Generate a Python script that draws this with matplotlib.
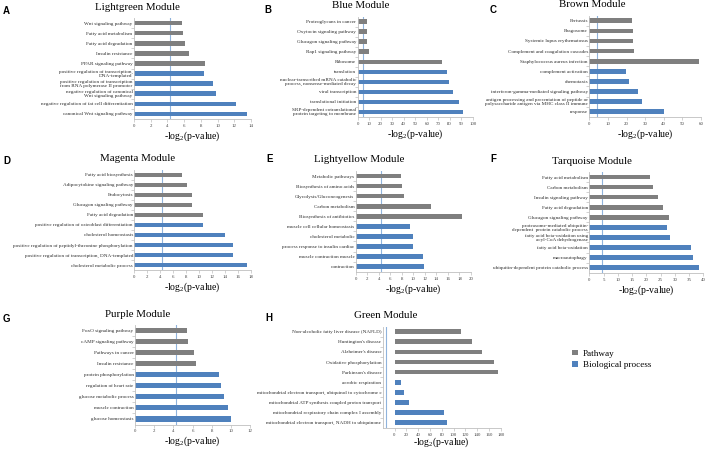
import matplotlib.pyplot as plt
from matplotlib.patches import Patch

plt.rcParams["font.family"] = ["Liberation Serif", "DejaVu Serif"]
plt.rcParams["mathtext.fontset"] = "custom"
plt.rcParams["mathtext.rm"] = "Liberation Serif"
plt.rcParams["mathtext.it"] = "Liberation Serif:italic"

GRAY = "#7f7f7f"
BLUE = "#4f81bd"
LINE = "#8fb3dc"
W, H = 708, 449

# ---- data (top to bottom) ----
a_path_terms = ["Wnt signaling pathway", "Fatty acid metabolism", "Fatty acid degradation",
                "Insulin resistance", "PPAR signaling pathway"]
a_path_vals = [5.7, 5.9, 6.1, 6.6, 8.5]
a_proc_terms = ["positive regulation of transcription,\nDNA-templated",
                "positive regulation of transcription\nfrom RNA polymerase II promoter",
                "negative regulation of canonical\nWnt signaling pathway",
                "negative regulation of fat cell differentiation",
                "canonical Wnt signaling pathway"]
a_proc_vals = [8.4, 9.5, 9.8, 12.2, 13.5]

b_path_terms = ["Proteoglycans in cancer", "Oxytocin signaling pathway", "Glucagon signaling pathway",
                "Rap1 signaling pathway", "Ribosome"]
b_path_vals = [7.8, 7.9, 8.4, 9.9, 73.3]
b_proc_terms = ["translation",
                "nuclear-transcribed mRNA catabolic\nprocess, nonsense-mediated decay",
                "viral transcription", "translational initiation",
                "SRP-dependent cotranslational\nprotein targeting to membrane"]
b_proc_vals = [77.7, 79.4, 82.6, 88.1, 91.6]

c_path_terms = ["Pertussis", "Phagosome", "Systemic lupus erythematosus",
                "Complement and coagulation cascades", "Staphylococcus aureus infection"]
c_path_vals = [22.8, 23.4, 23.5, 24.2, 58.8]
c_proc_terms = ["complement activation", "chemotaxis", "interferon-gamma-mediated signaling pathway",
                "antigen processing and presentation of peptide or\npolysaccharide antigen via MHC class II immune",
                "response"]
c_proc_vals = [19.9, 21.1, 26.2, 28.1, 40.3]

d_path_terms = ["Fatty acid biosynthesis", "Adipocytokine signaling pathway", "Endocytosis",
                "Glucagon signaling pathway", "Fatty acid degradation"]
d_path_vals = [7.4, 8.1, 8.9, 9.0, 10.6]
d_proc_terms = ["positive regulation of osteoblast differentiation", "cholesterol homeostasis",
                "positive regulation of peptidyl-threonine phosphorylation",
                "positive regulation of transcription, DNA-templated",
                "cholesterol metabolic process"]
d_proc_vals = [10.7, 14.1, 15.2, 15.2, 17.5]

e_path_terms = ["Metabolic pathways", "Biosynthesis of amino acids", "Glycolysis/Gluconeogenesis",
                "Carbon metabolism", "Biosynthesis of antibiotics"]
e_path_vals = [7.8, 8.0, 8.4, 13.0, 18.5]
e_proc_terms = ["muscle cell cellular homeostasis", "cholesterol metabolic",
                "process response to insulin cardiac", "muscle contraction muscle", "contraction"]
e_proc_vals = [9.5, 9.9, 10.0, 11.7, 11.9]

f_path_terms = ["Fatty acid metabolism", "Carbon metabolism", "Insulin signaling pathway",
                "Fatty acid degradation", "Glucagon signaling pathway"]
f_path_vals = [21.3, 22.3, 24.1, 26.0, 28.1]
f_proc_terms = ["proteasome-mediated ubiquitin-\ndependent  protein catabolic process",
                "fatty acid beta-oxidation using\nacyl-CoA dehydrogenase",
                "fatty acid beta-oxidation", "macroautophagy",
                "ubiquitin-dependent protein catabolic process"]
f_proc_vals = [27.4, 28.3, 35.7, 36.3, 38.6]

g_path_terms = ["FoxO signaling pathway", "cAMP signaling pathway", "Pathways in cancer",
                "Insulin resistance"]
g_path_vals = [5.4, 5.5, 6.2, 6.4]
g_proc_terms = ["protein phosphorylation", "regulation of heart rate", "glucose metabolic process",
                "muscle contraction", "glucose homeostasis"]
g_proc_vals = [8.8, 9.0, 9.3, 9.7, 10.0]

h_path_terms = ["Non-alcoholic fatty liver disease (NAFLD)", "Huntington's disease",
                "Alzheimer's disease", "Oxidative phosphorylation", "Parkinson's disease"]
h_path_vals = [112, 132, 148, 169, 175]
h_proc_terms = ["aerobic respiration",
                "mitochondrial electron transport, ubiquinol to cytochrome c",
                "mitochondrial ATP synthesis coupled proton transport",
                "mitochondrial respiratory chain complex I assembly",
                "mitochondrial electron transport, NADH to ubiquinone"]
h_proc_vals = [11.5, 16, 24.5, 84, 89]

thresholds = [4.32, 4.32, 4.32, 4.32, 4.32, 4.32, 4.32, -15]


def draw_panel(fig, box, letter, letter_xy, title, path_terms, path_vals, proc_terms, proc_vals,
               xlim, step, thresh, label_off=17.5):
    left, top, right, bottom = box
    ax = fig.add_axes([left / W, 1 - bottom / H, (right - left) / W, (bottom - top) / H])
    terms = path_terms + proc_terms
    vals = path_vals + proc_vals
    colors = [GRAY] * len(path_terms) + [BLUE] * len(proc_terms)
    ypos = list(range(len(terms)))
    ax.barh(ypos, vals, height=0.46, color=colors, zorder=2)
    ax.set_ylim(len(terms) - 0.5, -0.5)
    ax.set_yticks(ypos)
    ax.set_yticklabels(terms, fontsize=3.7, linespacing=0.95, color="#2b2b2b")
    ax.set_yticks([p + 0.5 for p in ypos[:-1]], minor=True)
    ax.set_xlim(*xlim)
    ax.set_xticks(range(0, xlim[1] + 1, step))
    ax.tick_params(axis="x", labelsize=3.5, length=2, width=0.5, color="#bfbfbf",
                   labelcolor="#444444", pad=1.5)
    ax.tick_params(axis="y", which="major", length=0, pad=1)
    ax.tick_params(axis="y", which="minor", length=2, width=0.5, color="#bfbfbf")
    ax.axvline(thresh, color=LINE, lw=0.8, zorder=1)
    for s in ["top", "right"]:
        ax.spines[s].set_visible(False)
    for s in ["left", "bottom"]:
        ax.spines[s].set_color("#bfbfbf")
        ax.spines[s].set_linewidth(0.6)
    ax.set_xlabel("-log$_2$(p-value)", fontsize=7, va="center")
    ax.xaxis.set_label_coords(0.5, -label_off / (bottom - top))
    fig.text((left + 3) / W, 1 - (top - 11) / H, title, fontsize=7.8, ha="center", va="center")
    fig.text(letter_xy[0] / W, 1 - letter_xy[1] / H, letter, fontsize=7, fontweight="bold",
             family="Liberation Sans", ha="left", va="center")
    return ax


fig = plt.figure(figsize=(7.08, 4.49), dpi=100)

draw_panel(fig, (134, 18, 251, 119), "A", (3, 11), "Lightgreen Module",
           a_path_terms, a_path_vals, a_proc_terms, a_proc_vals, (0, 14), 2, thresholds[0])
draw_panel(fig, (357.7, 16.7, 472.7, 117), "B", (264, 10), "Blue Module",
           b_path_terms, b_path_vals, b_proc_terms, b_proc_vals, (0, 100), 10, thresholds[1])
draw_panel(fig, (589.3, 15.7, 701, 116.8), "C", (490, 10), "Brown Module",
           c_path_terms, c_path_vals, c_proc_terms, c_proc_vals, (0, 60), 10, thresholds[2])
draw_panel(fig, (134.3, 170, 250.7, 270), "D", (3, 161), "Magenta Module",
           d_path_terms, d_path_vals, d_proc_terms, d_proc_vals, (0, 18), 2, thresholds[3])
draw_panel(fig, (355.7, 171, 471, 271.7), "E", (266, 159), "Lightyellow Module",
           e_path_terms, e_path_vals, e_proc_terms, e_proc_vals, (0, 20), 2, thresholds[4])
draw_panel(fig, (589.3, 172, 703.3, 272.7), "F", (490, 159), "Tarquoise Module",
           f_path_terms, f_path_vals, f_proc_terms, f_proc_vals, (0, 40), 5, thresholds[5])
draw_panel(fig, (135, 325.2, 250, 424.5), "G", (3, 319), "Purple Module",
           g_path_terms, g_path_vals, g_proc_terms, g_proc_vals, (0, 12), 2, thresholds[6],
           label_off=16.5)
draw_panel(fig, (382.7, 326.6, 500.8, 427.8), "H", (265, 318), "Green Module",
           h_path_terms, h_path_vals, h_proc_terms, h_proc_vals, (-20, 180), 20, thresholds[7],
           label_off=14.5)

handles = [Patch(facecolor=GRAY), Patch(facecolor=BLUE)]
fig.legend(handles, ["Pathway", "Biological process"], loc="upper left",
           bbox_to_anchor=(572 / W, 1 - 349.5 / H), frameon=False, fontsize=6.6,
           handlelength=0.6, handleheight=0.6, handletextpad=0.6, labelspacing=0.35,
           borderaxespad=0, borderpad=0)

fig.savefig("out.png", dpi=100)
